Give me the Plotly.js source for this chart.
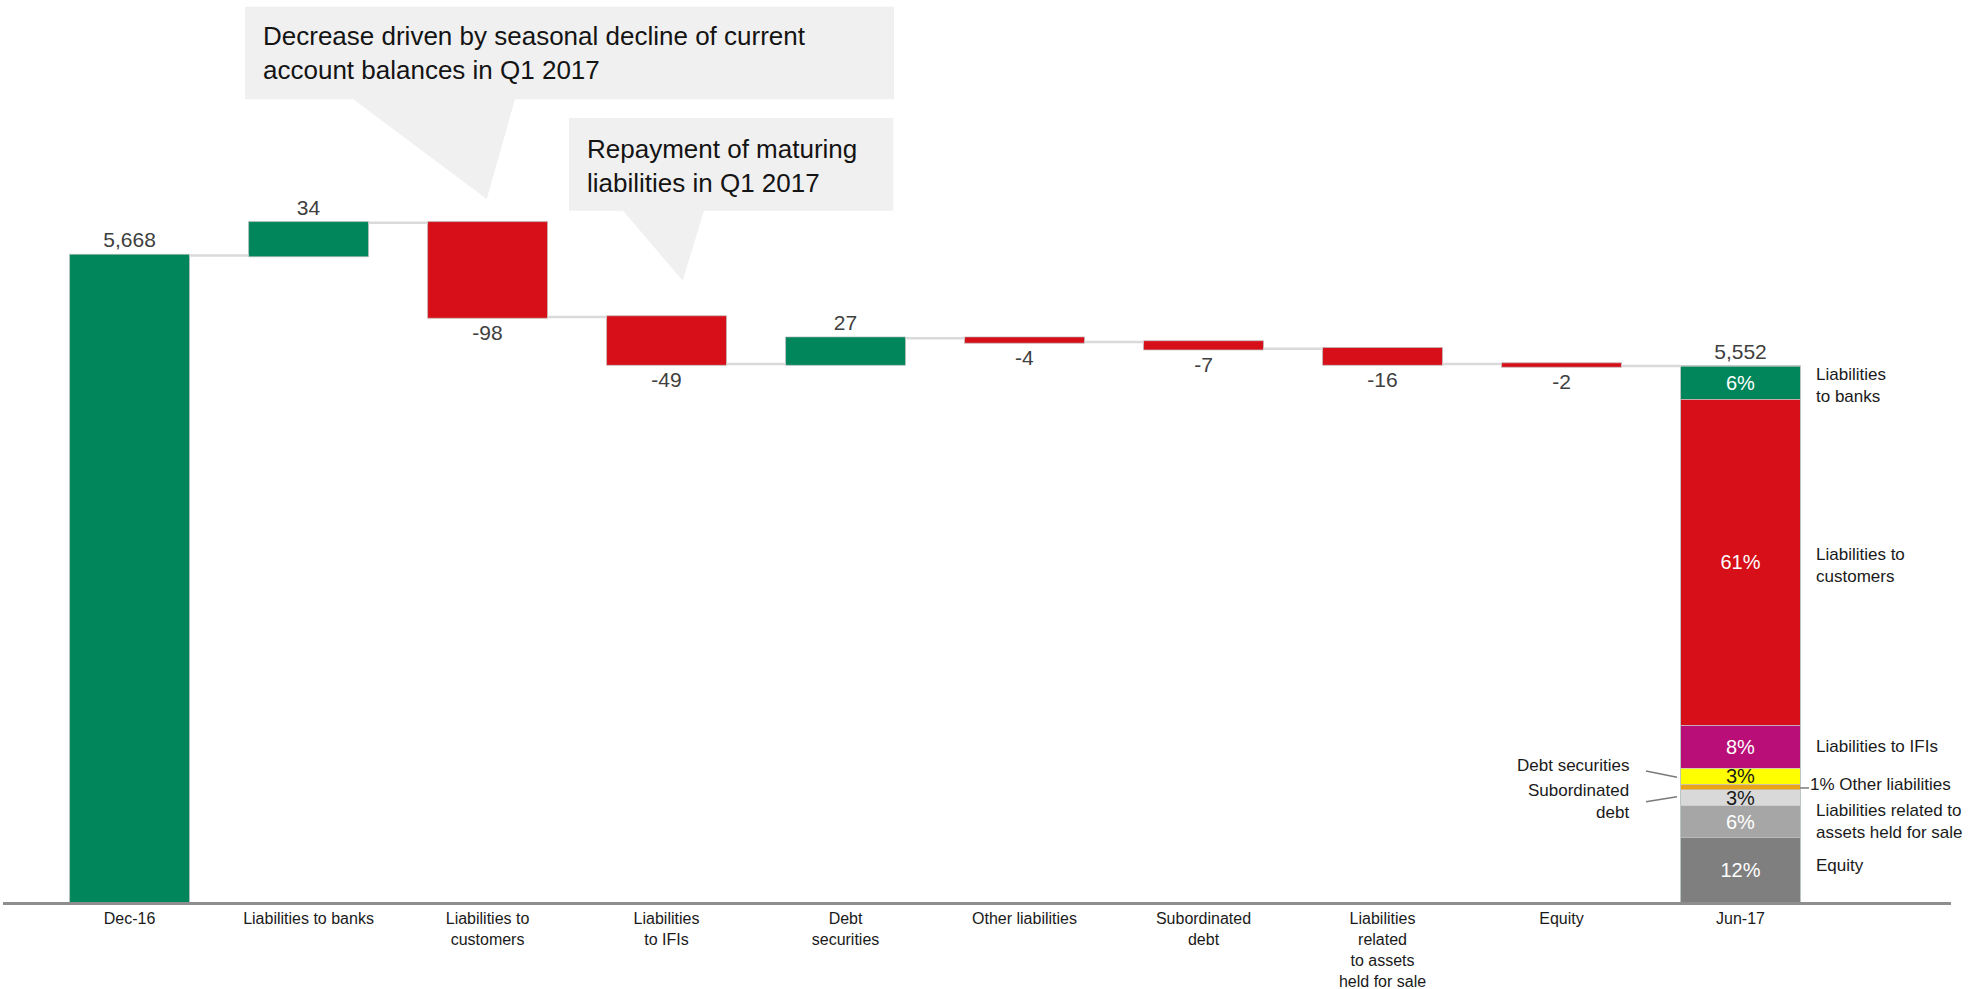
<!DOCTYPE html>
<html>
<head>
<meta charset="utf-8">
<script src="https://cdn.plot.ly/plotly-3.0.1.min.js"></script>
<style>
  html, body { margin: 0; padding: 0; background: #ffffff; }
  #chart { width: 1987px; height: 989px; }
</style>
</head>
<body>
<div id="chart"></div>
<script>
// Balance sheet liabilities bridge, Dec-16 to Jun-17
const categories = [
  'Dec-16', 'Liabilities to banks', 'Liabilities to customers', 'Liabilities to IFIs',
  'Debt securities', 'Other liabilities', 'Subordinated debt',
  'Liabilities related to assets held for sale', 'Equity', 'Jun-17'
];
const tickLabels = [
  'Dec-16', 'Liabilities to banks', 'Liabilities to<br>customers', 'Liabilities<br>to IFIs',
  'Debt<br>securities', 'Other liabilities', 'Subordinated<br>debt',
  'Liabilities<br>related<br>to assets<br>held for sale', 'Equity', 'Jun-17'
];
const measures = ['absolute', 'relative', 'relative', 'relative', 'relative',
                  'relative', 'relative', 'relative', 'relative', 'absolute'];
const values = [5668, 34, -98, -49, 27, -4, -7, -16, -2, 5552];

// Jun-17 structure, listed bottom to top
const compNames = [
  'Equity', 'Liabilities related to<br>assets held for sale', 'Subordinated<br>debt',
  'Other liabilities', 'Debt securities', 'Liabilities to IFIs',
  'Liabilities to<br>customers', 'Liabilities<br>to banks'
];
const compShares = [12, 6, 3, 1, 3, 8, 61, 6];

const calloutTexts = [
  'Decrease driven by seasonal decline of current<br>account balances in Q1 2017',
  'Repayment of maturing<br>liabilities in Q1 2017'
];

// ---- styling ----
const FONT = 'Liberation Sans, Arial, Helvetica, sans-serif';
const GREEN = '#00865A', RED = '#D60F19';
const compColors = ['#7F7F7F', '#A6A6A6', '#D9D9D9', '#E8A317', '#FFFF00', '#B90E77', RED, GREEN];
const compTextColors = ['#ffffff', '#ffffff', '#1a1a1a', '#1a1a1a', '#1a1a1a', '#ffffff', '#ffffff', '#ffffff'];
const compLabelSide = ['right', 'right', 'left', 'right', 'left', 'right', 'right', 'right'];

const W = 1987, H = 989;
const M = { l: 3, r: 36, t: 0, b: 87 };
const plotW = W - M.l - M.r, plotH = H - M.t - M.b;
const px2x = px => (px - M.l) / plotW;
const py2y = py => 1 - (py - M.t) / plotH;

// value axis is cut so that the changes stay readable
const axisFloor = 4995, axisCeil = 5934;
const endTotal = values[values.length - 1];
const shareAxisTop = 100 * (axisCeil - axisFloor) / (endTotal - axisFloor);

const fmt = (v, m) => m === 'absolute' ? v.toLocaleString('en-US') : String(v);

const barEdge = { color: 'rgba(190,190,190,0.7)', width: 1 };
const traces = [{
  type: 'waterfall',
  x: categories,
  y: values,
  measure: measures,
  text: values.map((v, i) => fmt(v, measures[i])),
  textinfo: 'text',
  textposition: 'outside',
  textfont: { family: FONT, size: 21, color: '#404040' },
  cliponaxis: false,
  increasing: { marker: { color: GREEN, line: barEdge } },
  decreasing: { marker: { color: RED, line: barEdge } },
  totals: { marker: { color: GREEN, line: barEdge } },
  connector: { mode: 'between', line: { color: '#DADADA', width: 2.5 } },
  hoverinfo: 'skip',
  showlegend: false
}];

compShares.forEach((s, i) => {
  traces.push({
    type: 'bar',
    x: [categories[categories.length - 1]],
    y: [s],
    yaxis: 'y2',
    text: [s < 2 ? '' : s + '%'],
    textposition: 'inside',
    insidetextanchor: 'middle',
    textangle: 0,
    textfont: { family: FONT, size: 20, color: compTextColors[i] },
    marker: { color: compColors[i], line: { color: 'rgba(200,200,200,0.6)', width: 1 } },
    hoverinfo: 'skip',
    showlegend: false
  });
});

// cumulative midpoints of the structure segments on the share axis
const mids = [];
let acc = 0;
compShares.forEach(s => { mids.push(acc + s / 2); acc += s; });

const annotations = [];
const shapes = [];

// callout boxes with pointers
function calloutPath(box, base, tip) {
  const pts = [
    [box.x0, box.y0], [box.x1, box.y0], [box.x1, box.y1],
    [base[1], box.y1], tip, [base[0], box.y1], [box.x0, box.y1]
  ];
  return 'M' + pts.map(p => px2x(p[0]).toFixed(5) + ',' + py2y(p[1]).toFixed(5)).join(' L') + ' Z';
}
const callouts = [
  { box: { x0: 245, x1: 894, y0: 6.7, y1: 99.3 }, base: [353.3, 515], tip: [486.7, 199], textY: 53 },
  { box: { x0: 569, x1: 893.3, y0: 118, y1: 210.7 }, base: [623, 704], tip: [682.7, 280.7], textY: 166 }
];
callouts.forEach((c, i) => {
  shapes.push({
    type: 'path', xref: 'paper', yref: 'paper', layer: 'above',
    path: calloutPath(c.box, c.base, c.tip),
    fillcolor: '#F0F0F0', line: { width: 0 }
  });
  annotations.push({
    xref: 'paper', yref: 'paper', x: px2x(c.box.x0 + 16), y: py2y(c.textY),
    xanchor: 'left', yanchor: 'middle', align: 'left', showarrow: false,
    text: calloutTexts[i], font: { family: FONT, size: 26, color: '#141414' }
  });
});

// labels beside the Jun-17 structure bar
const labelYShift = [4.2, 0, -4.3, 2, 10.3, 0, -3.6, -2.7];
compNames.forEach((n, i) => {
  const right = compLabelSide[i] === 'right';
  const label = compShares[i] < 2 ? compShares[i] + '% ' + n : n;
  annotations.push({
    xref: 'paper', yref: 'y2',
    x: right ? px2x(compShares[i] < 2 ? 1808 : 1814) : px2x(1631),
    y: mids[i], yshift: labelYShift[i],
    xanchor: right ? 'left' : 'right', yanchor: 'middle',
    align: right ? 'left' : 'right', showarrow: false,
    text: label, font: { family: FONT, size: 17, color: '#1a1a1a' }
  });
});

// leader lines for the thin segments
const leaders = [
  { seg: 4, x0: 1646, x1: 1677, y0: 5.3, y1: -1 },
  { seg: 2, x0: 1646, x1: 1677, y0: -4, y1: 1 },
  { seg: 3, x0: 1800, x1: 1809, y0: -1, y1: -1 }
];
leaders.forEach(l => {
  shapes.push({
    type: 'line', xref: 'paper', yref: 'y2', ysizemode: 'pixel', yanchor: mids[l.seg],
    x0: px2x(l.x0), x1: px2x(l.x1), y0: l.y0, y1: l.y1, layer: 'above',
    line: { color: '#7A7A7A', width: 1.5 }
  });
});

const layout = {
  width: W, height: H,
  margin: M,
  paper_bgcolor: '#ffffff',
  plot_bgcolor: '#ffffff',
  font: { family: FONT, color: '#1a1a1a' },
  showlegend: false,
  hovermode: false,
  barmode: 'stack',
  bargap: 0.33,
  waterfallgap: 0.33,
  uniformtext: { mode: 'show', minsize: 20 },
  xaxis: {
    type: 'category',
    categoryorder: 'array',
    categoryarray: categories,
    tickvals: categories,
    ticktext: tickLabels,
    range: [-0.707, 10.176],
    showline: true, linecolor: '#8E8E8E', linewidth: 3,
    showgrid: false, zeroline: false, ticks: '',
    ticklabelstandoff: 0,
    tickfont: { family: FONT, size: 16, color: '#1a1a1a' },
    fixedrange: true
  },
  yaxis: {
    range: [axisFloor, axisCeil],
    visible: false, showgrid: false, zeroline: false, fixedrange: true
  },
  yaxis2: {
    overlaying: 'y',
    range: [0, shareAxisTop],
    visible: false, showgrid: false, zeroline: false, fixedrange: true
  },
  shapes: shapes,
  annotations: annotations
};

Plotly.newPlot('chart', traces, layout, { staticPlot: true, displayModeBar: false });
</script>
</body>
</html>
